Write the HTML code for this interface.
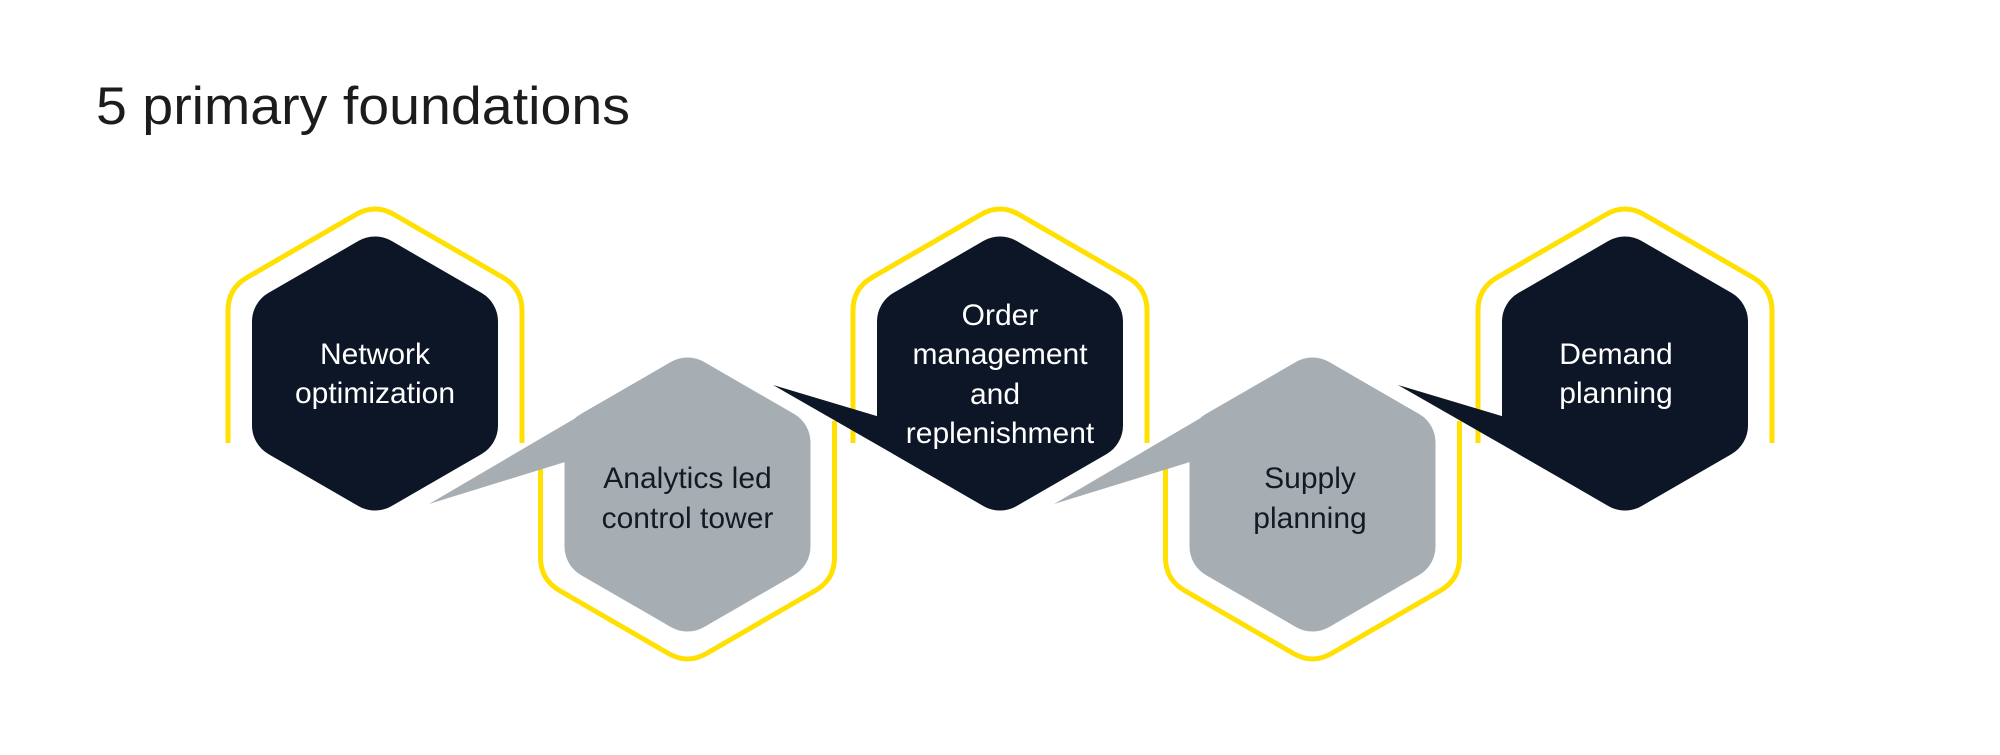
<!DOCTYPE html>
<html><head><meta charset="utf-8"><style>
html,body{margin:0;padding:0;background:#fff;}
svg{display:block}
text{font-family:"Liberation Sans",sans-serif;}
</style></head><body>
<svg width="2000" height="755" viewBox="0 0 2000 755" xmlns="http://www.w3.org/2000/svg">
<defs>
<path id="ytop" d="M -147 69.5 L -147 -63 Q -147 -85 -128 -96 L -19 -159 Q 0 -170 19 -159 L 128 -96 Q 147 -85 147 -63 L 147 69.5" fill="none" stroke="#FFE000" stroke-width="5"/>
<polygon id="hex" points="0,-104 90,-52 90,52 0,104 -90,52 -90,-52" stroke-width="66" stroke-linejoin="round"/>
</defs>
<text x="96" y="124" font-size="53" fill="#1c1c1e" textLength="534" lengthAdjust="spacingAndGlyphs">5 primary foundations</text>

<!-- yellow outlines -->
<use href="#ytop" transform="translate(375,373.5)"/>
<use href="#ytop" transform="translate(1000,373.5)"/>
<use href="#ytop" transform="translate(1625,373.5)"/>
<g fill="none" stroke="#FFE000" stroke-width="5">
<path transform="translate(687.5,494.5)" d="M -147 -29 L -147 63 Q -147 85 -128 96 L -19 159 Q 0 170 19 159 L 128 96 Q 147 85 147 63 L 147 -73.5"/>
<path transform="translate(1312.5,494.5)" d="M -147 -29 L -147 63 Q -147 85 -128 96 L -19 159 Q 0 170 19 159 L 128 96 Q 147 85 147 63 L 147 -73.5"/>
</g>

<!-- hexes -->
<g fill="#0d1626" stroke="#0d1626">
<use href="#hex" transform="translate(375,373.5)"/>
<use href="#hex" transform="translate(1000,373.5)"/>
<use href="#hex" transform="translate(1625,373.5)"/>
</g>
<g fill="#a7aeb3" stroke="#a7aeb3">
<use href="#hex" transform="translate(687.5,494.5)"/>
<use href="#hex" transform="translate(1312.5,494.5)"/>
</g>
<!-- tails -->
<polygon points="429,504 620,392 620,445" fill="#a7aeb3"/>
<polygon points="1054,504 1245,392 1245,445" fill="#a7aeb3"/>
<polygon points="773,385 930,432 930,475" fill="#0d1626"/>
<polygon points="1398,385 1555,432 1555,475" fill="#0d1626"/>

<!-- labels -->
<g font-size="30" text-anchor="middle" fill="#ffffff">
<text x="375" y="364">Network</text>
<text x="375" y="403">optimization</text>
<text x="1000" y="325">Order</text>
<text x="1000" y="364">management</text>
<text x="995" y="404">and</text>
<text x="1000" y="443">replenishment</text>
<text x="1616" y="364">Demand</text>
<text x="1616" y="403">planning</text>
</g>
<g font-size="30" text-anchor="middle" fill="#141a24">
<text x="687.5" y="488">Analytics led</text>
<text x="687.5" y="528">control tower</text>
<text x="1310" y="488">Supply</text>
<text x="1310" y="528">planning</text>
</g>
</svg>
</body></html>
